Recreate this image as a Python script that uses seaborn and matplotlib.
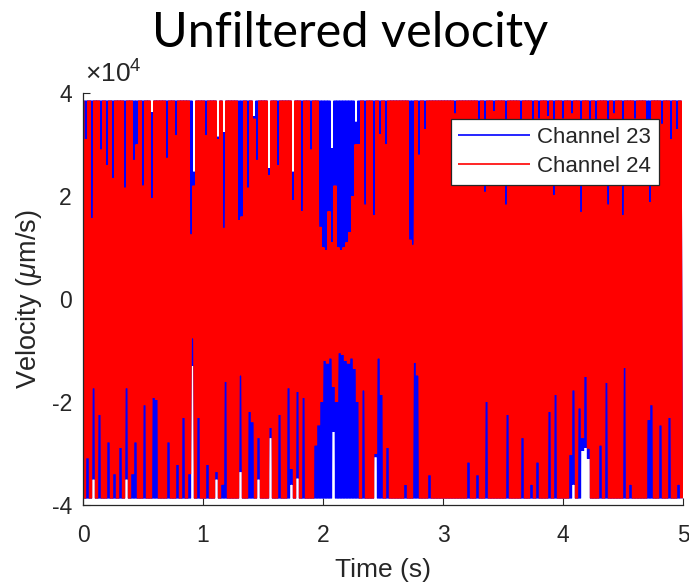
import numpy as np
import pandas as pd
import matplotlib
matplotlib.use("Agg")
import matplotlib.pyplot as plt
import seaborn as sns

# ---------------- data ----------------
title = "Unfiltered velocity"
channels = ["Channel 23", "Channel 24"]
channel_colors = ["#0000FF", "#FF0000"]
x_ticks = [0, 1, 2, 3, 4, 5]
y_ticks_e4 = [-4, -2, 0, 2, 4]          # axis ticks, in units of 10^4 um/s
bin_s = 0.025                            # width of one envelope bin (s)

# Peak values per 0.025 s bin, in thousands of um/s.
# Channel 23 (blue): positive peaks
ch23_upper_k = [
    38.5, 38.5, 38.5, 38.5, 38.5, 38.5, 38.5, 38.5, 38.5, 38.5,
    38.5, 38.5, 38.5, 38.5, 38.5, 38.5, 38.5, 38.5, 38.5, 38.5,
    38.5, 38.5, 38.5, 36.3, 38.5, 38.5, 38.5, 38.5, 38.5, 38.5,
    38.5, 38.5, 38.5, 38.5, 38.5, 38.5, 38.5, 24.7, 38.5, 38.5,
    38.5, 38.5, 38.5, 38.5, 38.5, 31.5, 38.5, 32.4, 38.5, 38.5,
    38.5, 38.5, 38.5, 38.5, 38.5, 38.5, 38.5, 35.5, 38.5, 38.5,
    38.5, 38.5, 25.4, 38.5, 38.5, 38.5, 38.5, 38.5, 38.5, 38.5,
    24.7, 38.5, 38.5, 38.5, 38.5, 38.5, 38.5, 38.5, 38.5, 38.5,
    38.5, 38.5, 38.5, 29.3, 38.5, 38.5, 38.5, 38.5, 38.5, 38.5,
    38.5, 34.4, 38.5, 38.5, 38.5, 38.5, 38.5, 38.5, 38.5, 38.5,
    38.5, 38.5, 38.5, 38.5, 38.5, 38.5, 38.5, 38.5, 38.5, 38.5,
    38.5, 38.5, 38.5, 38.5, 38.5, 38.5, 38.5, 38.5, 38.5, 38.5,
    38.5, 38.5, 38.5, 38.5, 38.5, 38.5, 38.5, 38.5, 38.5, 38.5,
    38.5, 38.5, 38.5, 38.5, 38.5, 38.5, 38.5, 38.5, 38.5, 38.5,
    38.5, 38.5, 38.5, 38.5, 38.5, 38.5, 38.5, 38.5, 38.5, 38.5,
    38.5, 38.5, 38.5, 38.5, 38.5, 38.5, 38.5, 38.5, 38.5, 38.5,
    38.5, 38.5, 38.5, 38.5, 38.5, 38.5, 38.5, 38.5, 38.5, 38.5,
    38.5, 38.5, 38.5, 38.5, 38.5, 38.5, 38.5, 38.5, 38.5, 38.5,
    38.5, 38.5, 38.5, 38.5, 38.5, 38.5, 38.5, 38.5, 38.5, 38.5,
    38.5, 38.5, 38.5, 38.5, 38.5, 38.5, 38.5, 38.5, 38.5, 38.5,
]
# Channel 23 (blue): negative peaks
ch23_lower_k = [
    -38.7, -38.7, -38.7, -35.0, -38.7, -38.7, -38.7, -38.7, -38.7, -38.7,
    -38.7, -38.7, -38.7, -38.7, -35.0, -38.7, -38.7, -38.7, -38.7, -38.7,
    -38.7, -38.7, -38.7, -38.7, -38.7, -38.7, -38.7, -38.7, -38.7, -38.7,
    -38.7, -38.7, -38.7, -38.7, -38.7, -38.7, -13.0, -38.7, -38.7, -38.7,
    -38.7, -38.7, -38.7, -38.7, -35.0, -38.7, -38.7, -38.7, -38.7, -38.7,
    -38.7, -38.7, -33.6, -38.7, -38.7, -38.7, -38.7, -38.7, -35.0, -38.7,
    -38.7, -38.7, -27.0, -38.7, -38.7, -38.7, -38.7, -38.7, -38.7, -36.0,
    -38.7, -34.8, -38.7, -38.7, -38.7, -38.7, -38.7, -38.7, -38.7, -38.7,
    -38.7, -38.7, -38.7, -25.8, -38.7, -38.7, -38.7, -38.7, -38.7, -38.7,
    -38.7, -38.7, -38.7, -38.7, -38.7, -38.7, -38.7, -30.7, -38.7, -38.7,
    -38.7, -38.7, -38.7, -38.7, -38.7, -38.7, -38.7, -38.7, -38.7, -38.7,
    -38.7, -38.7, -38.7, -38.7, -38.7, -38.7, -38.7, -38.7, -38.7, -38.7,
    -38.7, -38.7, -38.7, -38.7, -38.7, -38.7, -38.7, -38.7, -38.7, -38.7,
    -38.7, -38.7, -38.7, -38.7, -38.7, -38.7, -38.7, -38.7, -38.7, -38.7,
    -38.7, -38.7, -38.7, -38.7, -38.7, -38.7, -38.7, -38.7, -38.7, -38.7,
    -38.7, -38.7, -38.7, -38.7, -38.7, -38.7, -38.7, -38.7, -38.7, -38.7,
    -38.7, -38.7, -38.7, -36.0, -38.7, -38.7, -29.5, -28.9, -31.0, -38.7,
    -38.7, -38.7, -38.7, -38.7, -38.7, -38.7, -38.7, -38.7, -38.7, -38.7,
    -38.7, -38.7, -38.7, -38.7, -38.7, -38.7, -38.7, -38.7, -38.7, -38.7,
    -38.7, -38.7, -38.7, -38.7, -38.7, -38.7, -38.7, -38.7, -38.7, -38.7,
]
# Channel 24 (red): positive peaks
ch24_upper_k = [
    38.5, 31.0, 38.5, 15.7, 38.5, 38.5, 29.0, 38.5, 26.0, 38.5,
    23.5, 38.5, 38.5, 38.5, 21.6, 38.5, 38.5, 27.0, 30.0, 38.5,
    22.0, 38.5, 38.5, 19.6, 38.5, 38.5, 38.5, 38.5, 27.4, 38.5,
    38.5, 31.8, 38.5, 38.5, 38.5, 38.5, 12.5, 22.0, 38.5, 38.5,
    38.5, 31.8, 38.5, 38.5, 38.5, 31.0, 38.5, 13.8, 38.5, 38.5,
    38.5, 38.5, 15.3, 16.0, 38.5, 21.6, 38.5, 35.0, 27.0, 38.5,
    38.5, 38.5, 24.0, 38.5, 38.5, 26.0, 38.5, 38.5, 38.5, 38.5,
    19.2, 38.5, 38.5, 17.0, 38.5, 38.5, 29.0, 38.5, 38.5, 14.0,
    10.0, 9.5, 17.0, 11.0, 22.0, 10.0, 9.5, 10.0, 11.0, 13.0,
    20.0, 30.0, 30.0, 38.5, 18.3, 38.5, 38.5, 16.3, 38.5, 32.0,
    38.5, 30.0, 38.5, 38.5, 38.5, 38.5, 38.5, 38.5, 38.5, 11.5,
    10.5, 38.5, 28.0, 38.5, 33.0, 38.5, 38.5, 38.5, 38.5, 38.5,
    38.5, 38.5, 38.5, 38.5, 36.0, 38.5, 38.5, 38.5, 38.5, 38.5,
    38.5, 38.5, 34.0, 38.5, 20.8, 38.5, 38.5, 36.5, 38.5, 38.5,
    38.5, 18.3, 38.5, 38.5, 38.5, 38.5, 33.0, 38.5, 38.5, 38.5,
    33.0, 38.5, 35.0, 38.5, 38.5, 35.5, 38.5, 20.2, 38.5, 38.5,
    35.0, 38.5, 38.5, 36.0, 38.5, 38.5, 16.9, 38.5, 38.5, 33.0,
    38.5, 34.0, 38.5, 38.5, 38.5, 18.3, 38.5, 36.0, 38.5, 38.5,
    16.3, 38.5, 38.5, 38.5, 35.0, 38.5, 38.5, 38.5, 32.0, 18.8,
    38.5, 38.5, 38.5, 34.0, 38.5, 38.5, 31.0, 38.5, 33.0, 38.5,
]
# Channel 24 (red): negative peaks
ch24_lower_k = [
    -38.7, -30.9, -38.7, -17.3, -38.7, -22.5, -38.7, -38.7, -27.8, -38.7,
    -34.0, -38.7, -28.9, -38.7, -17.3, -38.7, -34.0, -27.8, -38.7, -38.7,
    -20.6, -38.7, -38.7, -19.2, -19.6, -38.7, -38.7, -38.7, -27.8, -38.7,
    -38.7, -32.2, -38.7, -23.1, -38.7, -34.0, -7.6, -38.7, -23.1, -38.7,
    -38.7, -32.2, -38.7, -38.7, -33.6, -38.7, -36.0, -16.1, -38.7, -38.7,
    -38.7, -38.7, -14.8, -38.7, -38.7, -21.9, -23.9, -38.7, -27.0, -38.7,
    -38.7, -38.7, -25.0, -38.7, -38.7, -22.5, -38.7, -38.7, -17.3, -33.0,
    -38.7, -18.0, -38.7, -19.2, -38.7, -38.7, -38.7, -28.4, -24.5, -20.0,
    -12.0, -12.5, -11.5, -17.0, -20.0, -10.5, -10.8, -12.0, -12.5, -11.5,
    -13.5, -20.0, -38.7, -17.7, -38.7, -38.7, -38.7, -30.0, -11.5, -18.6,
    -38.7, -28.9, -38.7, -38.7, -38.7, -38.7, -38.7, -36.1, -38.7, -38.7,
    -12.4, -14.8, -38.7, -38.7, -38.7, -34.2, -38.7, -38.7, -38.7, -38.7,
    -38.7, -38.7, -38.7, -38.7, -38.7, -38.7, -38.7, -38.7, -31.7, -38.7,
    -38.7, -34.2, -38.7, -38.7, -20.0, -38.7, -38.7, -38.7, -38.7, -38.7,
    -38.7, -22.5, -38.7, -38.7, -38.7, -38.7, -27.0, -38.7, -38.7, -36.0,
    -38.7, -31.7, -38.7, -38.7, -38.7, -21.9, -38.7, -18.6, -38.7, -38.7,
    -38.7, -38.7, -30.3, -17.7, -38.7, -21.2, -27.0, -15.1, -29.0, -38.7,
    -38.7, -38.7, -28.4, -38.7, -16.3, -38.7, -38.7, -38.7, -38.7, -38.7,
    -13.4, -38.7, -36.0, -38.7, -38.7, -38.7, -38.7, -38.7, -23.5, -20.6,
    -38.7, -38.7, -24.5, -38.7, -38.7, -23.1, -38.7, -38.7, -36.0, -38.7,
]

# ---------------- build long-form table ----------------
n_bins = len(ch24_upper_k)
peak_time_s = np.round(np.arange(2 * n_bins) * (bin_s / 2), 5)


def peaks_to_signal(upper_k, lower_k):
    sig = np.empty(2 * len(upper_k))
    sig[0::2] = upper_k
    sig[1::2] = lower_k
    return sig * 1000.0


frames = []
for name, up, lo in [(channels[0], ch23_upper_k, ch23_lower_k),
                     (channels[1], ch24_upper_k, ch24_lower_k)]:
    frames.append(pd.DataFrame({"time": peak_time_s,
                                "velocity": peaks_to_signal(up, lo),
                                "channel": name}))
df = pd.concat(frames, ignore_index=True)

# ---------------- style ----------------
sns.set_theme(style="white")
plt.rcParams["font.family"] = ["Liberation Sans", "DejaVu Sans"]
plt.rcParams["mathtext.fontset"] = "custom"
plt.rcParams["mathtext.rm"] = "Liberation Sans"
plt.rcParams["mathtext.it"] = "Liberation Sans:italic"
axis_gray = "#262626"

W, H = 689, 588
fig = plt.figure(figsize=(W / 100, H / 100), dpi=100)
ax = fig.add_axes([83 / W, (H - 505) / H, 600 / W, 412 / H])

sns.lineplot(data=df, x="time", y="velocity", hue="channel",
             hue_order=channels, palette=dict(zip(channels, channel_colors)),
             estimator=None, sort=False, lw=2.3,
             solid_joinstyle="bevel", solid_capstyle="butt", ax=ax)

ax.set_xlim(x_ticks[0], x_ticks[-1])
ax.set_ylim(y_ticks_e4[0] * 1e4, y_ticks_e4[-1] * 1e4)
ax.set_xticks(x_ticks)
ax.set_xticklabels([str(v) for v in x_ticks])
ax.set_yticks([v * 1e4 for v in y_ticks_e4])
ax.set_yticklabels([str(v) for v in y_ticks_e4])

for side in ["top", "right"]:
    ax.spines[side].set_visible(False)
for side in ["left", "bottom"]:
    ax.spines[side].set_color(axis_gray)
    ax.spines[side].set_linewidth(0.9)

ax.tick_params(axis="both", direction="in", length=5, width=0.8,
               color=axis_gray, labelcolor=axis_gray, labelsize=16.5,
               bottom=True, left=True)
ax.tick_params(axis="x", pad=14)
ax.tick_params(axis="y", pad=8)

ax.set_xlabel("Time (s)", fontsize=19, color=axis_gray)
ax.set_ylabel(r"Velocity ($\mu$m/s)", fontsize=19.5, color=axis_gray)
ax.xaxis.set_label_coords(0.5, -0.128)
ax.yaxis.set_label_coords(-0.065, 0.5)

ax.text(0.003, 1.012, r"$\mathregular{\times10^{4}}$", transform=ax.transAxes,
        ha="left", va="bottom", fontsize=19, color=axis_gray)

leg = ax.legend(loc="upper right", bbox_to_anchor=(0.96, 0.937),
                frameon=True, fancybox=False, framealpha=1,
                edgecolor=axis_gray, fontsize=16, handlelength=3.2,
                handletextpad=0.35, borderpad=0.35, labelspacing=0.38,
                borderaxespad=0)
leg.get_frame().set_linewidth(0.9)
for line in leg.get_lines():
    line.set_linewidth(1.2)
for t in leg.get_texts():
    t.set_color(axis_gray)

fig.text(350 / W, (H - 47) / H, title, ha="center", va="baseline",
         fontsize=35, family=["Lato", "DejaVu Sans"], fontweight="normal",
         color="black")

fig.savefig("out.png", dpi=100)
